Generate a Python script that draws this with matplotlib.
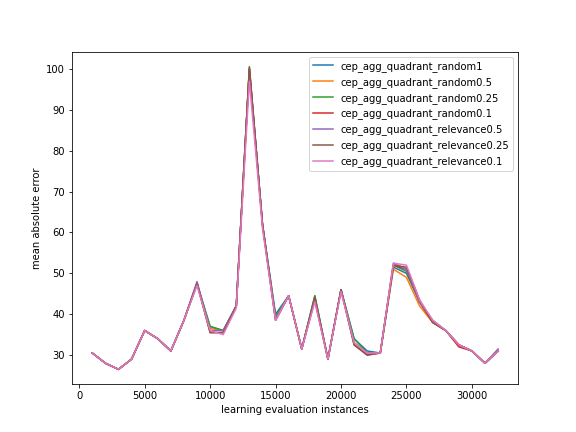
import numpy as np
import matplotlib
matplotlib.use('Agg')
import matplotlib.pyplot as plt

instances = list(range(1000, 33000, 1000))

random1 = [30.5, 28, 26.5, 29, 36, 34, 31, 38.5, 47.5, 37, 36, 42, 100, 62, 40, 44.5, 31.5, 44.5, 29, 46, 34, 31, 30.5, 51.5, 50, 43, 38, 36, 32.5, 31, 28, 31]
random05 = [30.5, 28, 26.5, 29, 36, 34, 31, 38.5, 47.5, 36.5, 36, 42, 100, 62, 39, 44.5, 31.5, 44, 29, 46, 33, 30.5, 30.5, 51, 49, 42, 38, 36, 32.5, 31, 28, 31]
random025 = [30.5, 28, 26.5, 29, 36, 34, 31, 38.5, 47.5, 37, 36, 42, 100.5, 62, 39.5, 44.5, 31.5, 44.5, 29, 46, 34, 30.5, 30.5, 52, 50.5, 43, 38.5, 36, 32.5, 31, 28, 31]
random01 = [30.5, 28, 26.5, 29, 36, 34, 31, 38.5, 47.5, 35.5, 35.5, 42, 100, 62, 38.5, 44.5, 31.5, 44, 29, 46, 32.5, 30, 30.5, 52, 51, 43, 38, 36, 32, 31, 28, 31]
relevance05 = [30.5, 28, 26.5, 29, 36, 34, 31, 38.5, 48, 36, 36, 42, 99.5, 62, 39, 44.5, 31.5, 43.5, 29, 46, 33, 30.5, 30.5, 52.5, 51, 43, 38.5, 36, 32.5, 31, 28, 31.5]
relevance025 = [30.5, 28, 26.5, 29, 36, 34, 31, 38.5, 47.5, 35.5, 35.5, 42, 100.5, 62, 38.5, 44.5, 31.5, 43.5, 29, 46, 32.5, 30, 30.5, 52, 51.5, 43.5, 38, 36, 32.5, 31, 28, 31]
relevance01 = [30.5, 28, 26.5, 29, 36, 34, 31, 38.5, 47, 36, 35, 41.5, 97, 61, 38.5, 44.5, 31.5, 43, 29, 45.5, 33, 30.5, 30.5, 52.5, 52, 43.5, 38.5, 36, 32.5, 31, 28, 31]

series = {
    'cep_agg_quadrant_random1': random1,
    'cep_agg_quadrant_random0.5': random05,
    'cep_agg_quadrant_random0.25': random025,
    'cep_agg_quadrant_random0.1': random01,
    'cep_agg_quadrant_relevance0.5': relevance05,
    'cep_agg_quadrant_relevance0.25': relevance025,
    'cep_agg_quadrant_relevance0.1': relevance01,
}

fig, ax = plt.subplots(figsize=(8, 6), dpi=72)
for name, vals in series.items():
    ax.plot(instances, vals, label=name)
ax.set_xlabel('learning evaluation instances')
ax.set_ylabel('mean absolute error')
ax.legend(loc='upper right')
fig.savefig('out.png')
